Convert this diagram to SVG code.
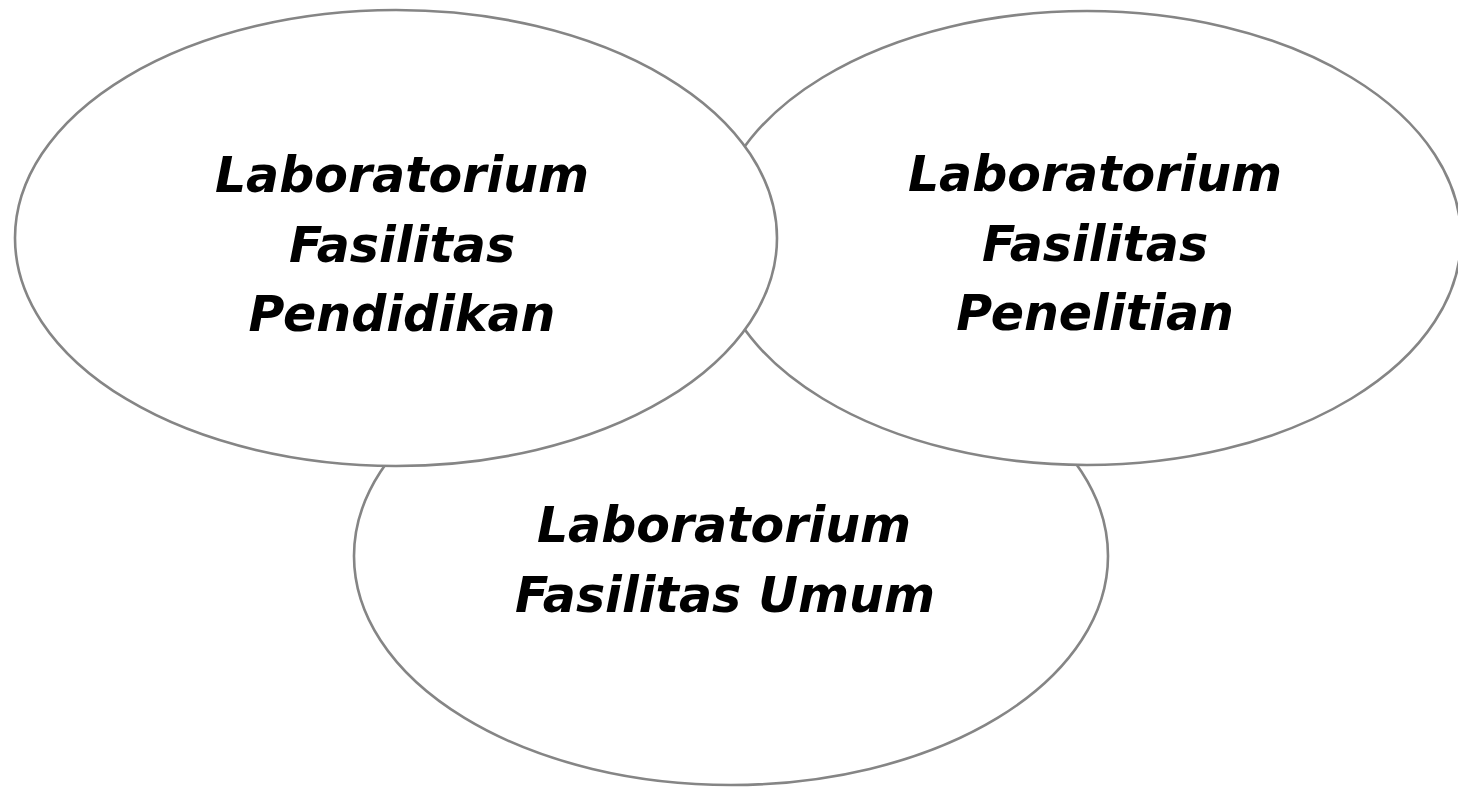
<svg xmlns="http://www.w3.org/2000/svg" width="1458" height="791" viewBox="0 0 1458 791">
<style>
.el{fill:#ffffff;stroke:#858585;stroke-width:2.6}
.t{font-family:"DejaVu Sans",Verdana,sans-serif;font-weight:bold;font-style:italic;font-size:49px;fill:#000;text-anchor:middle}
</style>
<rect width="1458" height="791" fill="#ffffff"/>
<g id="umum">
<ellipse class="el" cx="731" cy="556" rx="377" ry="229"/>
<text class="t" x="724" y="542">Laboratorium</text>
<text class="t" x="725" y="612">Fasilitas Umum</text>
</g>
<g id="penelitian">
<ellipse class="el" cx="1087" cy="238" rx="374" ry="227"/>
<text class="t" x="1095" y="191">Laboratorium</text>
<text class="t" x="1095" y="261">Fasilitas</text>
<text class="t" x="1095" y="330">Penelitian</text>
</g>
<g id="pendidikan">
<ellipse class="el" cx="396" cy="238" rx="381" ry="228"/>
<text class="t" x="402" y="192">Laboratorium</text>
<text class="t" x="402" y="262">Fasilitas</text>
<text class="t" x="402" y="331">Pendidikan</text>
</g>
<g id="connectors"></g>
</svg>
